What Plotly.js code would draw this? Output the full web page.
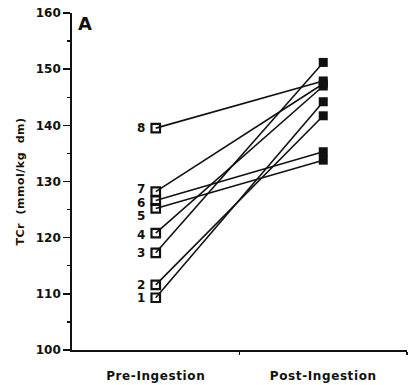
<!DOCTYPE html>
<html>
<head>
<meta charset="utf-8">
<script src="https://cdn.plot.ly/plotly-3.0.1.min.js"></script>
<style>
html,body{margin:0;padding:0;background:#fff;}
#chart{width:409px;height:385px;}
.xtick text{letter-spacing:0.6px;}
.ytitle{letter-spacing:0.5px;}
</style>
</head>
<body>
<div id="chart"></div>
<script>
// Data
const subjects = ['1', '2', '3', '4', '5', '6', '7', '8'];
const preValues = [109.3, 111.6, 117.3, 120.8, 125.2, 126.6, 128.2, 139.5];
const postValues = [144.2, 141.7, 151.2, 147.0, 133.8, 135.3, 147.4, 147.9];
const phaseLabels = ['Pre-Ingestion', 'Post-Ingestion'];
const phasePositions = [0, 1];
const yTicks = [100, 110, 120, 130, 140, 150, 160];

// label vertical nudges (pixels) to mimic reference placement
const labelShift = [0, 0, 0, -2, -8, -2, 3, 0];

const FONT = 'DejaVu Sans, Arial, sans-serif';
const traces = [];
subjects.forEach((s, i) => {
  traces.push({
    x: phasePositions, y: [preValues[i], postValues[i]],
    mode: 'lines', type: 'scatter', hoverinfo: 'skip',
    line: {color: '#111', width: 1.6}, showlegend: false
  });
});
traces.push({
  x: subjects.map(() => phasePositions[0]), y: preValues,
  mode: 'markers', type: 'scatter', showlegend: false,
  marker: {symbol: 'square-open', size: 8.5, color: '#111', line: {width: 2.2, color: '#111'}}
});
traces.push({
  x: subjects.map(() => phasePositions[1]), y: postValues,
  mode: 'markers', type: 'scatter', showlegend: false,
  marker: {symbol: 'square', size: 9, color: '#111', line: {width: 0}}
});

const annotations = subjects.map((s, i) => ({
  x: phasePositions[0], y: preValues[i], xref: 'x', yref: 'y',
  text: s, showarrow: false, xanchor: 'right', yanchor: 'middle',
  xshift: -9, yshift: labelShift[i],
  font: {family: FONT, size: 12, color: '#111', weight: 'bold'}
}));
annotations.push({
  x: 0.012, y: 1.005, xref: 'paper', yref: 'paper', text: 'A', showarrow: false,
  xanchor: 'left', yanchor: 'top',
  font: {family: FONT, size: 18, color: '#111', weight: 'bold'}
});

const layout = {
  width: 409, height: 385,
  margin: {l: 72, r: 2, t: 13, b: 35},
  paper_bgcolor: '#fff', plot_bgcolor: '#fff',
  showlegend: false,
  xaxis: {
    range: [-0.5, 1.5], tickmode: 'array', tickvals: phasePositions, ticktext: phaseLabels,
    ticks: '', showgrid: false, zeroline: false, showline: true,
    linecolor: '#111', linewidth: 1.5, ticklabelstandoff: 14,
    tickfont: {family: FONT, size: 12, color: '#111', weight: 'bold'},
    minor: {tickmode: 'array', tickvals: [0.5, 1.5], ticks: 'outside', ticklen: 3, tickwidth: 1.2, tickcolor: '#111', showgrid: false}
  },
  yaxis: {
    range: [100, 160], tickmode: 'array', tickvals: yTicks,
    ticks: 'outside', ticklen: 7, tickwidth: 1.5, tickcolor: '#111',
    showgrid: false, zeroline: false, showline: true, linecolor: '#111', linewidth: 1.8,
    tickfont: {family: FONT, size: 12, color: '#111', weight: 'bold'},
    minor: {dtick: 5, ticks: 'outside', ticklen: 3, tickwidth: 1.2, tickcolor: '#111', showgrid: false},
    title: {text: 'TCr  (mmol/kg  dm)', standoff: 9, font: {family: FONT, size: 11, color: '#111', weight: 'bold'}}
  },
  annotations: annotations
};

Plotly.newPlot('chart', traces, layout, {displayModeBar: false, staticPlot: true});
</script>
</body>
</html>
